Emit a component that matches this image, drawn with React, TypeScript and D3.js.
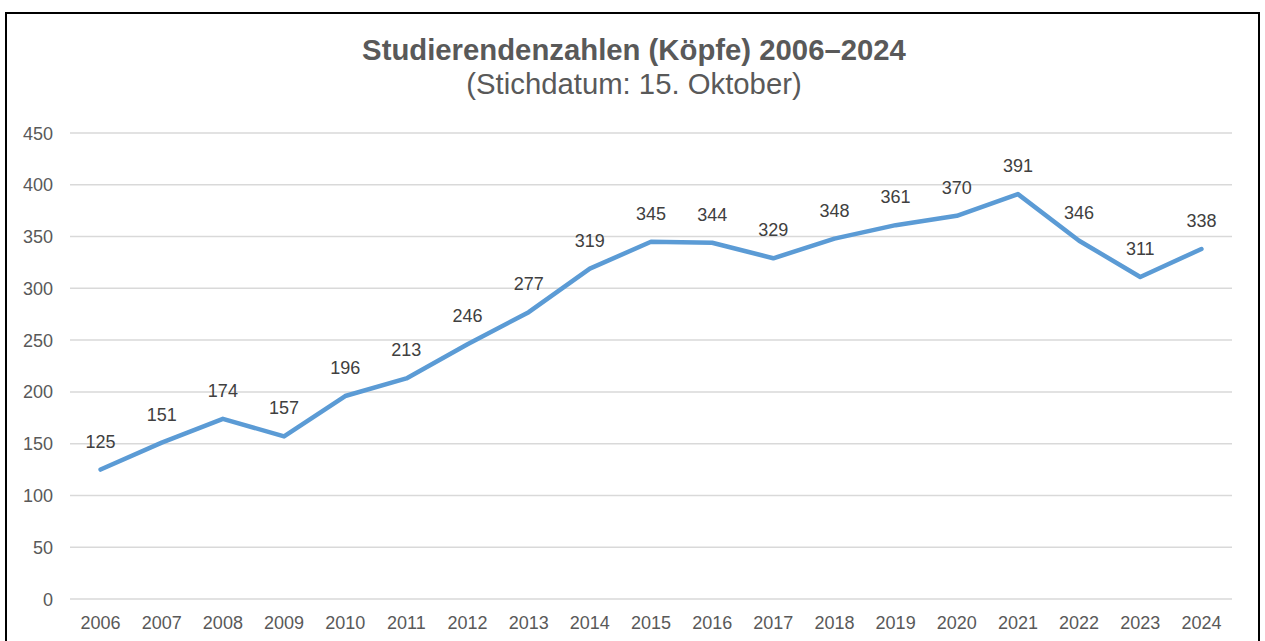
import React from "react";
import * as d3 from "d3";

const years = ["2006","2007","2008","2009","2010","2011","2012","2013","2014","2015","2016","2017","2018","2019","2020","2021","2022","2023","2024"];
const students = [125,151,174,157,196,213,246,277,319,345,344,329,348,361,370,391,346,311,338];
const yTicks = [0,50,100,150,200,250,300,350,400,450];
const title = "Studierendenzahlen (Köpfe) 2006–2024";
const subtitle = "(Stichdatum: 15. Oktober)";

export default function App() {
  const W = 1265, H = 641;
  const left = 70, right = 1232, top = 133, bottom = 599;
  const x = d3.scaleBand<string>().domain(years).range([left, right]);
  const y = d3.scaleLinear().domain([0, 450]).range([bottom, top]);
  const pts = years.map((yr, i) => [x(yr)! + x.bandwidth() / 2, y(students[i])] as [number, number]);
  const line = d3.line()(pts) || "";
  const font = "'Liberation Sans', Arial, sans-serif";
  return (
    <svg width={W} height={H} style={{ position: "absolute", left: 0, top: 0 }}>
      <rect x={0} y={0} width={W} height={H} fill="#fff" />
      <rect x={6} y={13} width={1253} height={H + 10} fill="none" stroke="#000" strokeWidth={2} />
      <text x={634} y={60} textAnchor="middle" fontFamily={font} fontWeight="bold" fontSize={29.3} fill="#595959">{title}</text>
      <text x={634} y={94} textAnchor="middle" fontFamily={font} fontSize={29.3} fill="#595959">{subtitle}</text>
      {yTicks.map(t => (
        <g key={t}>
          <line x1={left} x2={right} y1={y(t)} y2={y(t)} stroke="#d9d9d9" strokeWidth={1.5} />
          <text x={53} y={y(t) + 6.5} textAnchor="end" fontFamily={font} fontSize={18} fill="#595959">{t}</text>
        </g>
      ))}
      {years.map(yr => (
        <text key={yr} x={x(yr)! + x.bandwidth() / 2} y={629} textAnchor="middle" fontFamily={font} fontSize={18} fill="#595959">{yr}</text>
      ))}
      <path d={line} fill="none" stroke="#5b9bd5" strokeWidth={4.5} strokeLinejoin="round" strokeLinecap="round" />
      {pts.map((p, i) => (
        <text key={i} x={p[0]} y={p[1] - 22} textAnchor="middle" fontFamily={font} fontSize={18} fill="#404040">{students[i]}</text>
      ))}
    </svg>
  );
}
